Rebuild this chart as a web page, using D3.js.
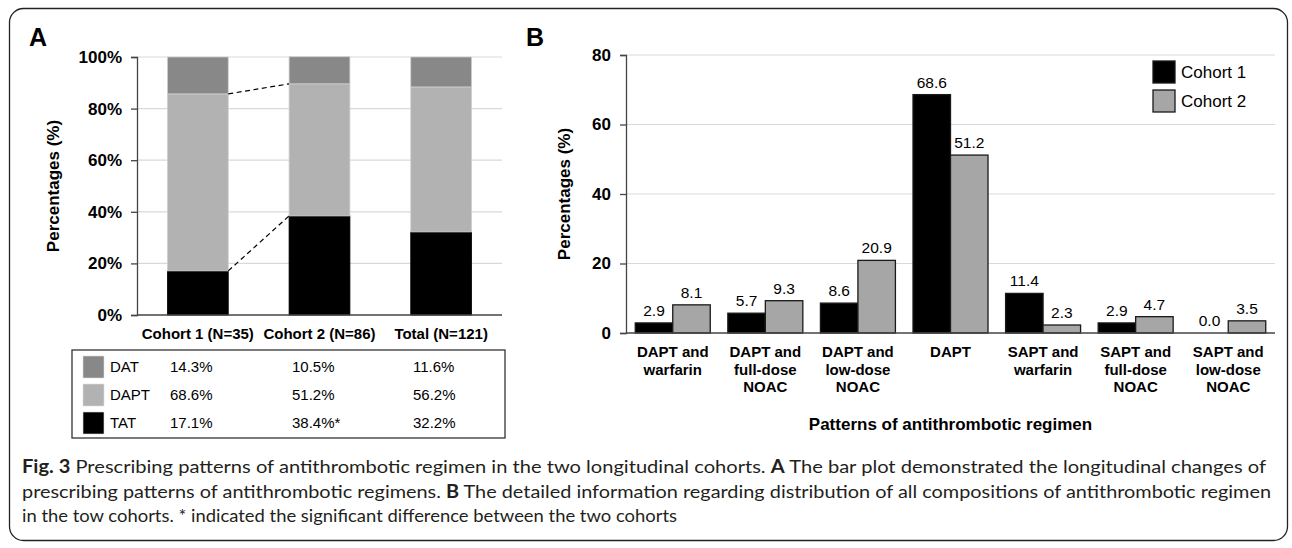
<!DOCTYPE html>
<html>
<head>
<meta charset="utf-8">
<script src="https://cdn.jsdelivr.net/npm/d3@7"></script>
<style>
  body { margin: 0; background: #fff; }
  text { font-family: "Liberation Sans", Arial, sans-serif; }
</style>
</head>
<body>
<div id="chart-area"></div>
<script>
// panel A data
const cohortNames = ["Cohort 1 (N=35)", "Cohort 2 (N=86)", "Total (N=121)"];
const regimenNames = ["DAT", "DAPT", "TAT"];
const datValues = [14.3, 10.5, 11.6];
const daptValues = [68.6, 51.2, 56.2];
const tatValues = [17.1, 38.4, 32.2];
const tatLabels = ["17.1%", "38.4%*", "32.2%"];
const pctTicks = [0, 20, 40, 60, 80, 100];

// panel B data
const patternNames = ["DAPT and warfarin", "DAPT and full-dose NOAC", "DAPT and low-dose NOAC", "DAPT",
                      "SAPT and warfarin", "SAPT and full-dose NOAC", "SAPT and low-dose NOAC"];
const patternLines = [["DAPT and", "warfarin"], ["DAPT and", "full-dose", "NOAC"], ["DAPT and", "low-dose", "NOAC"],
                      ["DAPT"], ["SAPT and", "warfarin"], ["SAPT and", "full-dose", "NOAC"], ["SAPT and", "low-dose", "NOAC"]];
const seriesNames = ["Cohort 1", "Cohort 2"];
const cohort1Values = [2.9, 5.7, 8.6, 68.6, 11.4, 2.9, 0.0];
const cohort2Values = [8.1, 9.3, 20.9, 51.2, 2.3, 4.7, 3.5];
const bTicks = [0, 20, 40, 60, 80];

const W = 1292, H = 548;
const svg = d3.select("#chart-area").append("svg")
            .attr("width", W).attr("height", H);

// outer rounded frame
svg.append("rect").attr("x", 9.5).attr("y", 8.5)
    .attr("width", 1278).attr("height", 532).attr("rx", 14)
    .attr("fill", "none").attr("stroke", "#222").attr("stroke-width", 1.3);

const a_set = { left: 137, right: 502, top: 57, bottom: 315 };
const b_set = { left: 626, right: 1275, top: 55, bottom: 333 };

const segColor = { DAT: "#888888", DAPT: "#b2b2b2", TAT: "#000000" };
const barColor = ["#000000", "#a6a6a6"];

panelA();
panelB();
caption();

function panelA()
{
    const g = svg.append("g");

    g.append("text").attr("x", 29).attr("y", 46)
        .attr("font-size", "25px").attr("font-weight", "bold").text("A");

    const y = d3.scaleLinear().domain([0, 100]).range([a_set.bottom, a_set.top]);
    const x = d3.scaleBand().domain(cohortNames)
                .range([a_set.left, a_set.right])
                .paddingInner(0.5).paddingOuter(0.25);

    // grid
    g.append("g").selectAll("line").data(pctTicks.slice(1)).enter().append("line")
        .attr("x1", a_set.left).attr("x2", a_set.right)
        .attr("y1", d => y(d)).attr("y2", d => y(d))
        .attr("stroke", "#d9d9d9").attr("stroke-width", 1.2);

    // stacked bars, TAT at bottom
    const stackRows = cohortNames.map((c, i) => ({ name: c, TAT: tatValues[i], DAPT: daptValues[i], DAT: datValues[i] }));
    const series = d3.stack().keys(["TAT", "DAPT", "DAT"])(stackRows);
    g.append("g").selectAll("g").data(series).enter().append("g")
        .attr("fill", d => segColor[d.key])
        .selectAll("rect").data(d => d).enter().append("rect")
        .attr("x", d => x(d.data.name))
        .attr("y", d => y(d[1]))
        .attr("width", x.bandwidth())
        .attr("height", d => y(d[0]) - y(d[1]))
        .attr("stroke", function () { return d3.select(this.parentNode).datum().key == "TAT" ? "#000" : "#cfcfcf"; })
        .attr("stroke-width", 0.8);

    // dashed connectors between cohort 1 and cohort 2
    const tops = [tatValues, tatValues.map((d, i) => d + daptValues[i])];
    g.append("g").selectAll("line").data(tops).enter().append("line")
        .attr("x1", x(cohortNames[0]) + x.bandwidth())
        .attr("x2", x(cohortNames[1]))
        .attr("y1", d => y(d[0])).attr("y2", d => y(d[1]))
        .attr("stroke", "#000").attr("stroke-width", 1.2)
        .attr("stroke-dasharray", "5,3.5");

    // axes
    const yAxis = d3.axisLeft(y).tickValues(pctTicks).tickSize(6).tickFormat(d => d + "%");
    const ya = g.append("g").attr("transform", "translate(" + a_set.left + ",0)").call(yAxis);
    ya.select(".domain").attr("stroke", "#444").attr("stroke-width", 1.3);
    ya.selectAll(".tick line").attr("stroke", "#444").attr("stroke-width", 1.3);
    ya.selectAll("text").attr("font-size", "17px").attr("font-weight", "bold")
        .attr("font-family", "Liberation Sans, Arial").attr("fill", "#000").attr("x", -15);

    g.append("line").attr("x1", a_set.left).attr("x2", a_set.right)
        .attr("y1", a_set.bottom).attr("y2", a_set.bottom)
        .attr("stroke", "#444").attr("stroke-width", 1.3);

    g.append("g").selectAll("text").data(cohortNames).enter().append("text")
        .attr("x", d => x(d) + x.bandwidth() / 2).attr("y", 339)
        .attr("text-anchor", "middle").attr("font-size", "15px").attr("font-weight", "bold")
        .text(d => d);

    g.append("text").attr("transform", "translate(59," + (a_set.top + a_set.bottom) / 2 + ") rotate(-90)")
        .attr("text-anchor", "middle").attr("font-size", "17px").attr("font-weight", "bold")
        .text("Percentages (%)");

    // table under the bars
    const tb = { x: 72, y: 350, w: 433, h: 88 };
    g.append("rect").attr("x", tb.x).attr("y", tb.y).attr("width", tb.w).attr("height", tb.h)
        .attr("fill", "none").attr("stroke", "#333").attr("stroke-width", 1.3);

    const rowY = d3.scalePoint().domain(regimenNames).range([tb.y + 17, tb.y + 73]);
    const colX = [170, 292, 413];
    const cells = { DAT: datValues.map(d => d.toFixed(1) + "%"),
                    DAPT: daptValues.map(d => d.toFixed(1) + "%"),
                    TAT: tatLabels };

    const rows = g.append("g").selectAll("g").data(regimenNames).enter().append("g")
        .attr("transform", d => "translate(0," + rowY(d) + ")");
    rows.append("rect").attr("x", 83).attr("y", -11).attr("width", 21).attr("height", 22)
        .attr("fill", d => segColor[d]).attr("stroke", "#ddd").attr("stroke-width", 0.6);
    rows.append("text").attr("x", 110).attr("y", 5).attr("font-size", "15px").text(d => d);
    rows.selectAll(".val").data(d => cells[d]).enter().append("text").attr("class", "val")
        .attr("x", (d, i) => colX[i]).attr("y", 5).attr("font-size", "15px").text(d => d);
}

function panelB()
{
    const g = svg.append("g");

    g.append("text").attr("x", 526).attr("y", 46)
        .attr("font-size", "25px").attr("font-weight", "bold").text("B");

    const y = d3.scaleLinear().domain([0, 80]).range([b_set.bottom, b_set.top]);
    const x0 = d3.scaleBand().domain(patternNames)
                .range([b_set.left, b_set.right])
                .paddingInner(0.19).paddingOuter(0.1);
    const x1 = d3.scaleBand().domain(seriesNames).range([0, x0.bandwidth()]);

    g.append("g").selectAll("line").data(bTicks.slice(1)).enter().append("line")
        .attr("x1", b_set.left).attr("x2", b_set.right)
        .attr("y1", d => y(d)).attr("y2", d => y(d))
        .attr("stroke", "#d9d9d9").attr("stroke-width", 1.2);

    const rows = patternNames.map((p, i) => ({ name: p, vals: [cohort1Values[i], cohort2Values[i]] }));
    const groups = g.append("g").selectAll("g").data(rows).enter().append("g")
        .attr("transform", d => "translate(" + x0(d.name) + ",0)");

    groups.selectAll("rect").data(d => d.vals).enter().append("rect")
        .attr("x", (d, i) => x1(seriesNames[i]))
        .attr("y", d => y(d))
        .attr("width", x1.bandwidth())
        .attr("height", d => y(0) - y(d))
        .attr("fill", (d, i) => barColor[i])
        .attr("stroke", "#1a1a1a").attr("stroke-width", 1.3);

    groups.selectAll(".lab").data(d => d.vals).enter().append("text").attr("class", "lab")
        .attr("x", (d, i) => x1(seriesNames[i]) + x1.bandwidth() / 2)
        .attr("y", d => y(d) - 7)
        .attr("text-anchor", "middle").attr("font-size", "15.5px")
        .text(d => d.toFixed(1));

    // axes
    const yAxis = d3.axisLeft(y).tickValues(bTicks).tickSize(6);
    const ya = g.append("g").attr("transform", "translate(" + b_set.left + ",0)").call(yAxis);
    ya.select(".domain").attr("stroke", "#444").attr("stroke-width", 1.3);
    ya.selectAll(".tick line").attr("stroke", "#444").attr("stroke-width", 1.3);
    ya.selectAll("text").attr("font-size", "17px").attr("font-weight", "bold")
        .attr("font-family", "Liberation Sans, Arial").attr("fill", "#000").attr("x", -15);

    g.append("line").attr("x1", b_set.left).attr("x2", b_set.right)
        .attr("y1", b_set.bottom).attr("y2", b_set.bottom)
        .attr("stroke", "#444").attr("stroke-width", 1.5);

    // category labels (multi-line)
    const labs = g.append("g").selectAll("text").data(rows).enter().append("text")
        .attr("text-anchor", "middle").attr("font-size", "15px").attr("font-weight", "bold")
        .attr("y", 357);
    labs.selectAll("tspan").data((d, i) => patternLines[i]).enter().append("tspan")
        .attr("x", function () { const p = d3.select(this.parentNode).datum(); return x0(p.name) + x0.bandwidth() / 2; })
        .attr("dy", (d, i) => i == 0 ? 0 : 17.5)
        .text(d => d);

    g.append("text").attr("x", (b_set.left + b_set.right) / 2).attr("y", 430)
        .attr("text-anchor", "middle").attr("font-size", "17px").attr("font-weight", "bold")
        .text("Patterns of antithrombotic regimen");

    g.append("text").attr("transform", "translate(570," + (b_set.top + b_set.bottom) / 2 + ") rotate(-90)")
        .attr("text-anchor", "middle").attr("font-size", "17px").attr("font-weight", "bold")
        .text("Percentages (%)");

    // legend
    const lg = g.append("g").selectAll("g").data(seriesNames).enter().append("g")
        .attr("transform", (d, i) => "translate(1153," + (61 + i * 29) + ")");
    lg.append("rect").attr("width", 22).attr("height", 22)
        .attr("fill", (d, i) => barColor[i]).attr("stroke", "#1a1a1a").attr("stroke-width", 1.3);
    lg.append("text").attr("x", 28).attr("y", 17).attr("font-size", "17px").text(d => d);
}

function caption()
{
    const lines = [
        [["Fig. 3", true], [" Prescribing patterns of antithrombotic regimen in the two longitudinal cohorts. ", false], ["A", true],
         [" The bar plot demonstrated the longitudinal changes of", false]],
        [["prescribing patterns of antithrombotic regimens. ", false], ["B", true],
         [" The detailed information regarding distribution of all compositions of antithrombotic regimen", false]],
        [["in the tow cohorts. * indicated the significant difference between the two cohorts", false]]
    ];
    const widths = [1244, 1249, 655];
    const cap = svg.append("g");
    cap.selectAll("text").data(lines).enter().append("text")
        .attr("x", 22).attr("y", (d, i) => 473 + i * 24.5)
        .attr("font-size", "18px").attr("fill", "#231f20")
        .style("font-family", "Lato, 'Open Sans', sans-serif")
        .attr("textLength", (d, i) => widths[i]).attr("lengthAdjust", "spacingAndGlyphs")
        .selectAll("tspan").data(d => d).enter().append("tspan")
        .attr("font-weight", d => d[1] ? "bold" : "normal")
        .text(d => d[0]);
}
</script>
</body>
</html>
